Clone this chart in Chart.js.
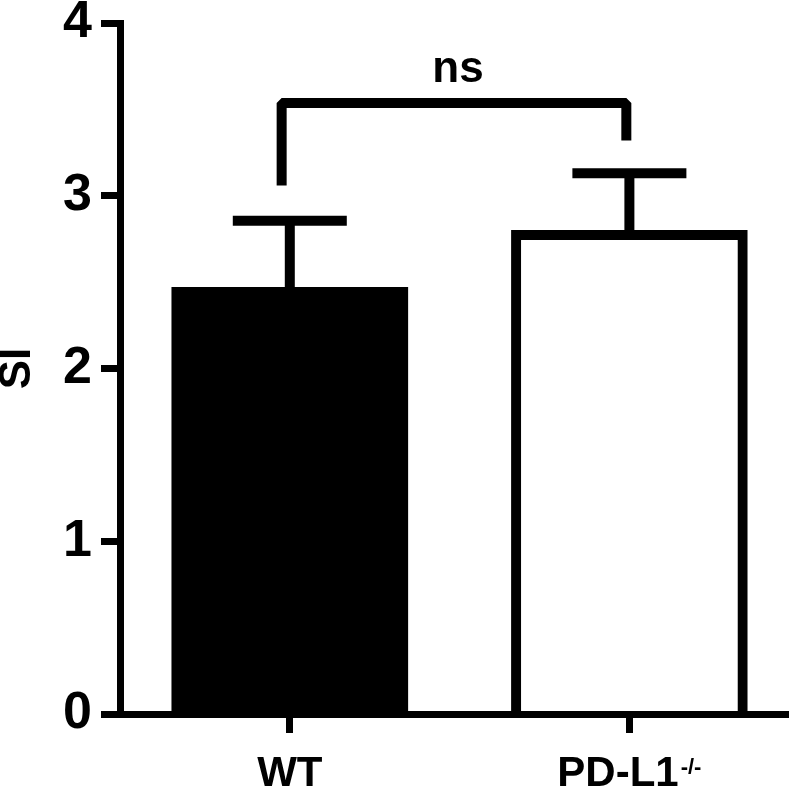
<!DOCTYPE html>
<html>
<head>
<meta charset="utf-8">
<script src="https://cdn.jsdelivr.net/npm/chart.js@4.4.1/dist/chart.umd.min.js"></script>
<style>
  html, body { margin: 0; padding: 0; background: #fff; }
  canvas { display: block; }
</style>
</head>
<body>
<canvas id="siChart" width="789" height="789"></canvas>
<script>
// data
const groups = ["WT", "PD-L1"];
const groupSup = ["", "-/-"];
const means = [2.47, 2.80];
const sem = [0.385, 0.33];
const yTicks = [0, 1, 2, 3, 4];
const sigLabel = "ns";
const bracketX = [-0.024, 0.991];      // left / right leg positions (category units)
const bracketY = [3.06, 3.537, 3.32];  // left leg end, top, right leg end

const FONT = "'Liberation Sans', Arial, Helvetica, sans-serif";

// error bars + significance bracket + category labels
const extras = {
  id: "extras",
  afterDatasetsDraw(chart) {
    const c = chart.ctx;
    const xs = chart.scales.x, ys = chart.scales.y;
    c.save();
    c.strokeStyle = "#000";
    c.lineWidth = 10;
    c.lineCap = "butt";
    // error bars (upper only)
    means.forEach((m, i) => {
      const x = xs.getPixelForValue(i);
      const yTop = ys.getPixelForValue(m + sem[i]);
      c.beginPath();
      c.moveTo(x, ys.getPixelForValue(m));
      c.lineTo(x, yTop);
      c.stroke();
      c.beginPath();
      c.moveTo(x - 57, yTop);
      c.lineTo(x + 57, yTop);
      c.stroke();
    });
    // bracket
    const xl = xs.getPixelForValue(bracketX[0]);
    const xr = xs.getPixelForValue(bracketX[1]);
    const yt = ys.getPixelForValue(bracketY[1]);
    c.lineJoin = "bevel";
    c.beginPath();
    c.moveTo(xl, ys.getPixelForValue(bracketY[0]));
    c.lineTo(xl, yt);
    c.lineTo(xr, yt);
    c.lineTo(xr, ys.getPixelForValue(bracketY[2]));
    c.stroke();
    c.fillStyle = "#000";
    c.font = "bold 44px " + FONT;
    c.textAlign = "center";
    c.textBaseline = "alphabetic";
    c.fillText(sigLabel, (xl + xr) / 2 + 4, yt - 21);
    c.restore();
  },
  afterDraw(chart) {
    const c = chart.ctx;
    const xs = chart.scales.x;
    c.save();
    c.fillStyle = "#000";
    c.textBaseline = "alphabetic";
    c.textAlign = "left";
    groups.forEach((g, i) => {
      const x = xs.getPixelForValue(i);
      c.font = "bold 42px " + FONT;
      const w1 = c.measureText(g).width;
      c.font = "bold 22px " + FONT;
      const w2 = groupSup[i] ? c.measureText(groupSup[i]).width + 2 : 0;
      const x0 = x - (w1 + w2) / 2;
      c.font = "bold 42px " + FONT;
      c.fillText(g, x0, 786);
      if (groupSup[i]) {
        c.font = "bold 22px " + FONT;
        c.fillText(groupSup[i], x0 + w1 + 2, 774);
      }
    });
    c.restore();
  }
};

new Chart(document.getElementById("siChart"), {
  type: "bar",
  data: {
    datasets: [{
      data: means.map((m, i) => ({ x: i, y: m })),
      backgroundColor: ["#000", "#fff"],
      borderColor: "#000",
      borderWidth: [0, 10],
      borderSkipped: "bottom",
      barThickness: 236
    }]
  },
  options: {
    responsive: false,
    devicePixelRatio: 1,
    animation: false,
    layout: { padding: { top: 23, right: 0, bottom: 0, left: 0 } },
    plugins: { legend: { display: false }, tooltip: { enabled: false } },
    scales: {
      x: {
        type: "linear",
        min: -0.5,
        max: 1.47,
        offset: false,
        grid: { offset: false, drawOnChartArea: false, drawTicks: true, tickLength: 19, tickWidth: 7, tickColor: "#000" },
        border: { display: true, color: "#000", width: 7, z: 1 },
        ticks: { display: false },
        afterBuildTicks: s => { s.ticks = groups.map((g, i) => ({ value: i })); },
        afterFit: s => { s.height = 75; s.paddingLeft = 0; s.paddingRight = 0; }
      },
      y: {
        min: 0,
        max: 4,
        grid: { drawOnChartArea: false, drawTicks: true, tickLength: 19, tickWidth: 7, tickColor: "#000" },
        border: { display: true, color: "#000", width: 7, z: 1 },
        ticks: {
          color: "#000",
          padding: 9,
          font: { family: FONT, size: 52, weight: "bold", lineHeight: 0.8 }
        },
        afterBuildTicks: s => { s.ticks = yTicks.map(v => ({ value: v })); },
        title: {
          display: true,
          text: "SI",
          color: "#000",
          padding: { top: -4, bottom: 0 },
          font: { family: FONT, size: 44, weight: "bold", lineHeight: 1 }
        },
        afterFit: s => { s.width = 120; s.paddingTop = 0; s.paddingBottom = 0; }
      }
    }
  },
  plugins: [extras]
});
</script>
</body>
</html>
